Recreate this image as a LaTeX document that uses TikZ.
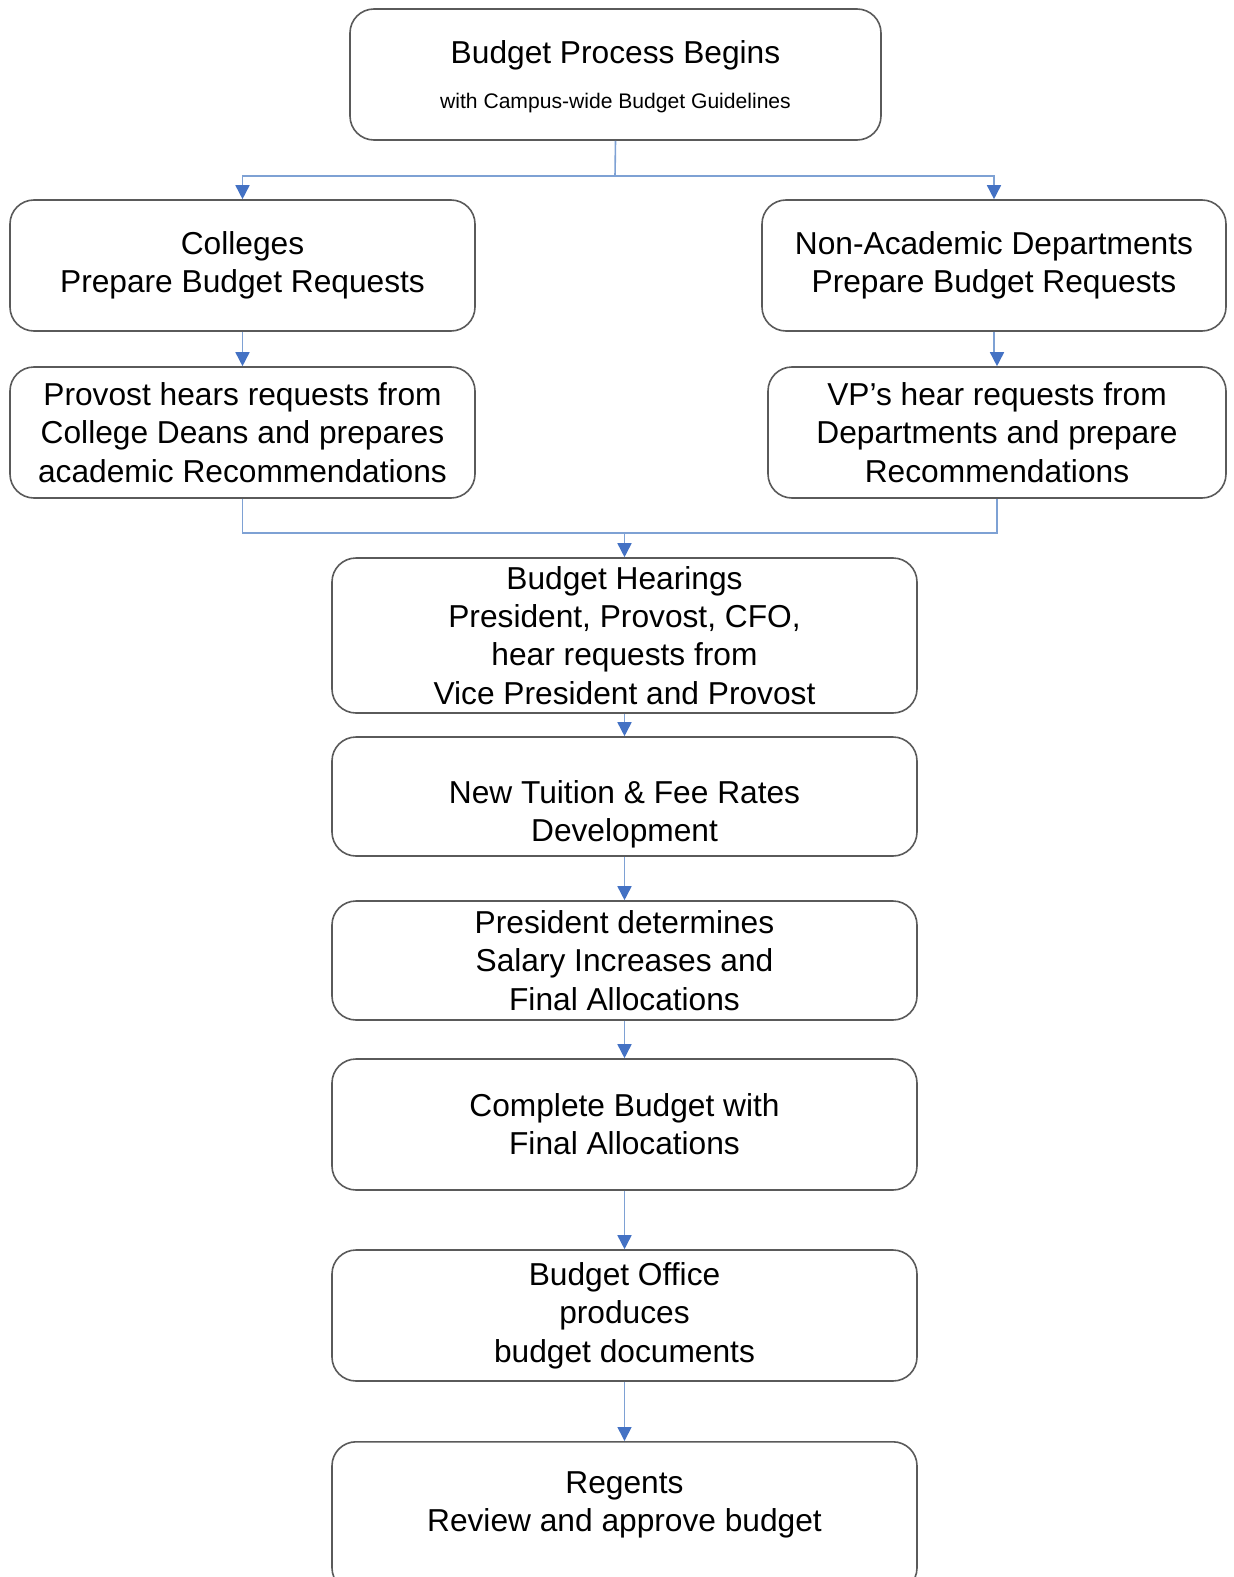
\documentclass[tikz,border=0pt]{standalone}
\usepackage{fontspec}
\setmainfont{Liberation Sans}
\usetikzlibrary{arrows.meta}
\definecolor{lineblue}{HTML}{7EA1D4}
\definecolor{tipblue}{HTML}{4472C4}
\definecolor{boxgray}{HTML}{5A5A5A}
\newcommand{\bigtxt}{\fontsize{31.7bp}{38.3bp}\selectfont}
\newcommand{\smalltxt}{\fontsize{21.1bp}{25bp}\selectfont}
\begin{document}
\begin{tikzpicture}[x=1bp,y=-1bp,
  box/.style={draw=boxgray, line width=1.6bp, rounded corners=24bp, fill=white,
    inner sep=0pt, align=center, font=\bigtxt, minimum height=131bp},
  txt/.style={inner sep=0pt, align=center, font=\bigtxt},
  conn/.style={draw=lineblue, line width=1.6bp},
  arr/.style={conn, -{Triangle[width=14bp,length=14bp,color=tipblue]}}
]
\useasboundingbox (0,0) rectangle (1233,1577);
\begin{scope}
\clip (0,0) rectangle (1233,1577);
% boxes
\node[box, minimum width=531bp] (top) at (615.5,74.5) {};
\node[txt, anchor=base] (topa) at (615.5,64) {Budget Process Begins};
\node[txt, anchor=base, font=\smalltxt] (topb) at (615.5,108.5) {with Campus-wide Budget Guidelines};
\node[box, minimum width=465bp] (col) at (242.5,265.5) {Colleges\\Prepare Budget Requests};
\node[box, minimum width=464bp] (na) at (994,265.5) {Non-Academic Departments\\Prepare Budget Requests};
\node[box, minimum width=465bp] (prov) at (242.5,432.5) {Provost hears requests from\\College Deans and prepares\\academic Recommendations};
\node[box, minimum width=458bp] (vp) at (997,432.5) {VP’s hear requests from\\Departments and prepare\\Recommendations};
\node[box, minimum width=585bp, minimum height=155bp] (hear) at (624.5,635.5) {Budget Hearings\\President, Provost, CFO,\\hear requests from\\Vice President and Provost};
\node[box, minimum width=585bp, minimum height=119bp] (tui) at (624.5,796.5) {};
\node[txt] (tuit) at (624.5,814) {New Tuition \& Fee Rates\\Development};
\node[box, minimum width=585bp, minimum height=119bp] (pres) at (624.5,960.5) {President determines\\Salary Increases and\\Final Allocations};
\node[box, minimum width=585bp] (comp) at (624.5,1124.5) {Complete Budget with\\Final Allocations};
\node[box, minimum width=585bp] (bo) at (624.5,1315.5) {Budget Office\\produces\\budget documents};
\node[box, minimum width=585bp, minimum height=150bp, anchor=north] (reg) at (624.5,1441) {};
\node[txt] (regt) at (624.5,1505) {Regents\\Review and approve budget};
% connectors
\coordinate (j1) at (615,176);
\draw[conn] (top.south) -- (j1);
\draw[arr] (j1) -| (col.north);
\draw[arr] (j1) -| (na.north);
\draw[arr] (col.south) -- (prov.north);
\draw[arr] (na.south) -- ++(0,21) -| (vp.north);
\coordinate (j2) at (hear.north |- 0,533);
\draw[conn] (prov.south) |- (j2) -| (vp.south);
\draw[arr] (j2) -- (hear.north);
\draw[arr] (hear.south) -- (tui.north);
\draw[arr] (tui.south) -- (pres.north);
\draw[arr] (pres.south) -- (comp.north);
\draw[arr] (comp.south) -- (bo.north);
\draw[arr] (bo.south) -- (reg.north);
\end{scope}
\end{tikzpicture}
\end{document}
